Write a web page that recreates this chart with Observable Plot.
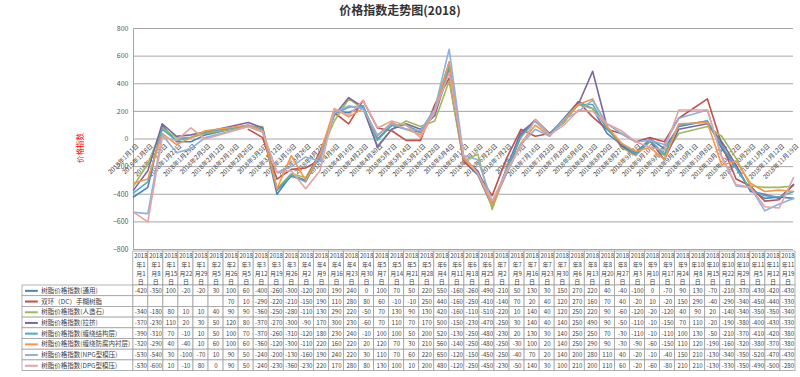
<!DOCTYPE html>
<html><head><meta charset="utf-8">
<script src="https://cdn.jsdelivr.net/npm/d3@7"></script>
<script src="https://cdn.jsdelivr.net/npm/@observablehq/plot@0.6"></script>
<style>
html,body{margin:0;padding:0;background:#fff;}
#wrap{position:relative;width:800px;height:377px;overflow:hidden;font-family:"Noto Sans CJK SC",sans-serif;}
#title{position:absolute;top:1px;left:0;width:800px;text-align:center;font-size:12px;font-weight:bold;color:#333;font-family:"Noto Sans CJK SC",sans-serif;}
#chart{position:absolute;top:0;left:0;}
#table{position:absolute;top:249px;left:0;}
svg{overflow:visible;}
</style></head><body>
<div id="wrap"><div id="chart"></div><div id="table"></div><div id="title">价格指数走势图(2018)</div></div>
<script>
// ---- data ----
const dates = ["2018-01-01","2018-01-08","2018-01-15","2018-01-22","2018-01-29","2018-02-05","2018-02-26","2018-03-05","2018-03-12","2018-03-19","2018-03-26","2018-04-02","2018-04-09","2018-04-16","2018-04-23","2018-04-30","2018-05-07","2018-05-14","2018-05-21","2018-05-28","2018-06-04","2018-06-11","2018-06-18","2018-06-25","2018-07-02","2018-07-09","2018-07-16","2018-07-23","2018-07-30","2018-08-06","2018-08-13","2018-08-20","2018-08-27","2018-09-03","2018-09-10","2018-09-17","2018-09-24","2018-10-08","2018-10-15","2018-10-22","2018-10-29","2018-11-05","2018-11-12","2018-11-19"];

const seriesNames = ["树脂价格指数(通用)","双环（DC）手糊树脂","树脂价格指数(人造石)","树脂价格指数(拉挤)","树脂价格指数(缠绕结构层)","树脂价格指数(缠绕防腐内衬层)","树脂价格指数(NPG型模压)","树脂价格指数(DPG型模压)"];

const tongyong = [-420,-350,100,-20,-20,30,100,60,-400,-260,-300,-120,200,190,240,0,100,70,50,220,550,-160,-260,-490,-210,50,130,30,150,270,220,40,-40,-100,0,-70,90,130,-70,-210,-370,-430,-420,-430];
const shuanghuan = [null,null,null,null,null,null,70,10,-290,-220,-210,-150,190,110,280,80,60,-10,-10,250,440,-160,-250,-410,-140,70,20,40,120,270,160,70,40,-20,10,-20,150,290,-40,-290,-340,-450,-440,-330];
const renzaoshi = [-340,-180,80,10,10,40,90,90,-360,-250,-280,-110,130,290,220,-50,70,130,90,130,420,-160,-110,-510,-220,10,140,40,120,250,220,90,-60,-120,-20,-120,40,90,20,-140,-340,-350,-350,-340];
const laji = [-370,-230,110,20,30,50,120,80,-370,-270,-300,-90,170,300,230,-60,70,110,70,170,500,-150,-230,-470,-250,30,140,40,140,250,490,90,-50,-110,-10,-150,70,110,-20,-190,-380,-400,-430,-330];
const chanraoJiegou = [-390,-310,70,-10,10,50,100,70,-370,-260,-310,-120,180,230,240,-10,100,100,50,200,520,-130,-250,-480,-230,20,130,30,140,250,250,70,-30,-110,-10,-110,100,130,-50,-210,-370,-410,-420,-380];
const chanraoFangfu = [-320,-290,40,-40,10,60,100,60,-360,-120,-300,-110,220,160,220,20,120,70,30,210,560,-140,-250,-480,-250,-30,100,20,140,250,290,90,-30,-90,-60,-150,110,120,-190,-160,-320,-380,-370,-380];
const npg = [-530,-540,30,-100,-70,10,90,50,-240,-200,-130,-160,190,240,220,30,110,70,60,220,650,-120,-150,-450,-250,-40,70,20,140,200,280,110,40,-20,-10,-40,150,210,-130,-340,-350,-520,-470,-430];
const dpg = [-530,-600,10,-10,80,0,90,50,-240,-230,-360,-230,220,170,280,80,130,100,10,200,480,-120,-250,-450,-230,-50,140,30,100,210,200,110,60,-20,-60,-80,210,210,-130,-330,-350,-490,-500,-280];

const seriesValues = [tongyong, shuanghuan, renzaoshi, laji, chanraoJiegou, chanraoFangfu, npg, dpg];
const colors = ["#4F81BD","#C0504D","#9BBB59","#8064A2","#4BACC6","#F79646","#8DB0DC","#E3A3A2"];
const yTicks = [-800,-600,-400,-200,0,200,400,600,800];
const yTitle = "价格指数";

// ---- build ----
const parse = d3.utcParse("%Y-%m-%d");
const rows = [];
seriesValues.forEach((vals, s) => vals.forEach((v, i) => {
  if (v != null) rows.push({series: seriesNames[s], date: parse(dates[i]), value: v});
}));
const first = parse(dates[0]), last = parse(dates[dates.length - 1]);
const weeks = d3.utcMonday.range(first, d3.utcDay.offset(last, 1));
const fmtAxis = d => `2018年${d.getUTCMonth() + 1}月${d.getUTCDate()}日`;
const FONT = "'Noto Sans CJK SC', sans-serif";

const chart = Plot.plot({
  width: 800, height: 252,
  marginLeft: 133, marginRight: 7, marginTop: 28, marginBottom: 3,
  style: {fontFamily: FONT, background: "transparent", overflow: "visible"},
  x: {type: "utc", domain: [first, last], axis: null},
  y: {domain: [-800, 800], axis: null, label: null},
  color: {domain: seriesNames, range: colors},
  marks: [
    Plot.gridY(yTicks, {stroke: "#a6a6a6", strokeOpacity: 1, strokeWidth: 1}),
    Plot.ruleX([first], {stroke: "#a6a6a6", strokeWidth: 1}),
    Plot.axisY({ticks: yTicks, label: null, tickSize: 0, tickPadding: 5, fontSize: 7, fill: "#595959"}),
    Plot.text([yTitle], {frameAnchor: "left", dx: -53, dy: 24, rotate: -90, fill: "#ff0000", fontSize: 7.5}),
    Plot.text(weeks, {x: d => d, y: 0, text: fmtAxis, rotate: -45, textAnchor: "end", lineAnchor: "middle", dx: 4, dy: 6, fontSize: 6.3, fill: "#404040"}),
    Plot.line(rows, {x: "date", y: "value", z: "series", stroke: "series", strokeWidth: 1.6, curve: "linear"})
  ]
});
document.getElementById("chart").appendChild(chart);

// ---- data table ----
const L = 7.36;            // width of legend column, in column units
const HDR = 34, RH = 10.7; // header and row heights, in table units
const nCol = dates.length;
const hdrLabel = s => { const [y, m, d] = s.split("-").map(Number); return `${y}\n年${m}\n月${d}\n日`; };
const valueCells = [];
seriesValues.forEach((vals, s) => vals.forEach((v, i) => valueCells.push({s, i, v})));
const legendCells = seriesNames.map((name, s) => ({s, name}));
const headerCells = dates.map((d, i) => ({i, d}));

const table = Plot.plot({
  width: 800, height: 128,
  marginLeft: 22, marginRight: 5, marginTop: 2, marginBottom: 128 - 2 - (HDR + RH * seriesNames.length),
  style: {fontFamily: FONT, background: "transparent", overflow: "visible"},
  x: {domain: [-L, nCol], axis: null},
  y: {domain: [0, HDR + RH * seriesNames.length], axis: null, reverse: true},
  color: {domain: seriesNames, range: colors},
  marks: [
    Plot.rect(headerCells, {x1: d => d.i, x2: d => d.i + 1, y1: 0, y2: HDR, fill: "white", stroke: "#a0a0a0", strokeWidth: 0.8}),
    Plot.rect(valueCells, {x1: d => d.i, x2: d => d.i + 1, y1: d => HDR + RH * d.s, y2: d => HDR + RH * (d.s + 1), fill: "white", stroke: "#a0a0a0", strokeWidth: 0.8}),
    Plot.rect(legendCells, {x1: -L, x2: 0, y1: d => HDR + RH * d.s, y2: d => HDR + RH * (d.s + 1), fill: "white", stroke: "#a0a0a0", strokeWidth: 0.8}),
    Plot.text(headerCells, {x: d => d.i + 0.5, y: HDR / 2, text: d => hdrLabel(d.d), lineHeight: 1.42, fontSize: 6, fill: "#404040"}),
    Plot.text(valueCells.filter(d => d.v != null), {x: d => d.i + 0.5, y: d => HDR + RH * (d.s + 0.5), text: d => String(d.v), fontSize: 6.1, fill: "#404040"}),
    Plot.ruleY(legendCells, {y: d => HDR + RH * (d.s + 0.5), x1: -L + 0.2, x2: -L + 1.05, stroke: d => d.name, strokeWidth: 2}),
    Plot.text(legendCells, {x: -L + 1.25, y: d => HDR + RH * (d.s + 0.5), text: d => d.name, textAnchor: "start", fontSize: 6.5, fill: "#404040"})
  ]
});
document.getElementById("table").appendChild(table);
</script>
</body></html>
